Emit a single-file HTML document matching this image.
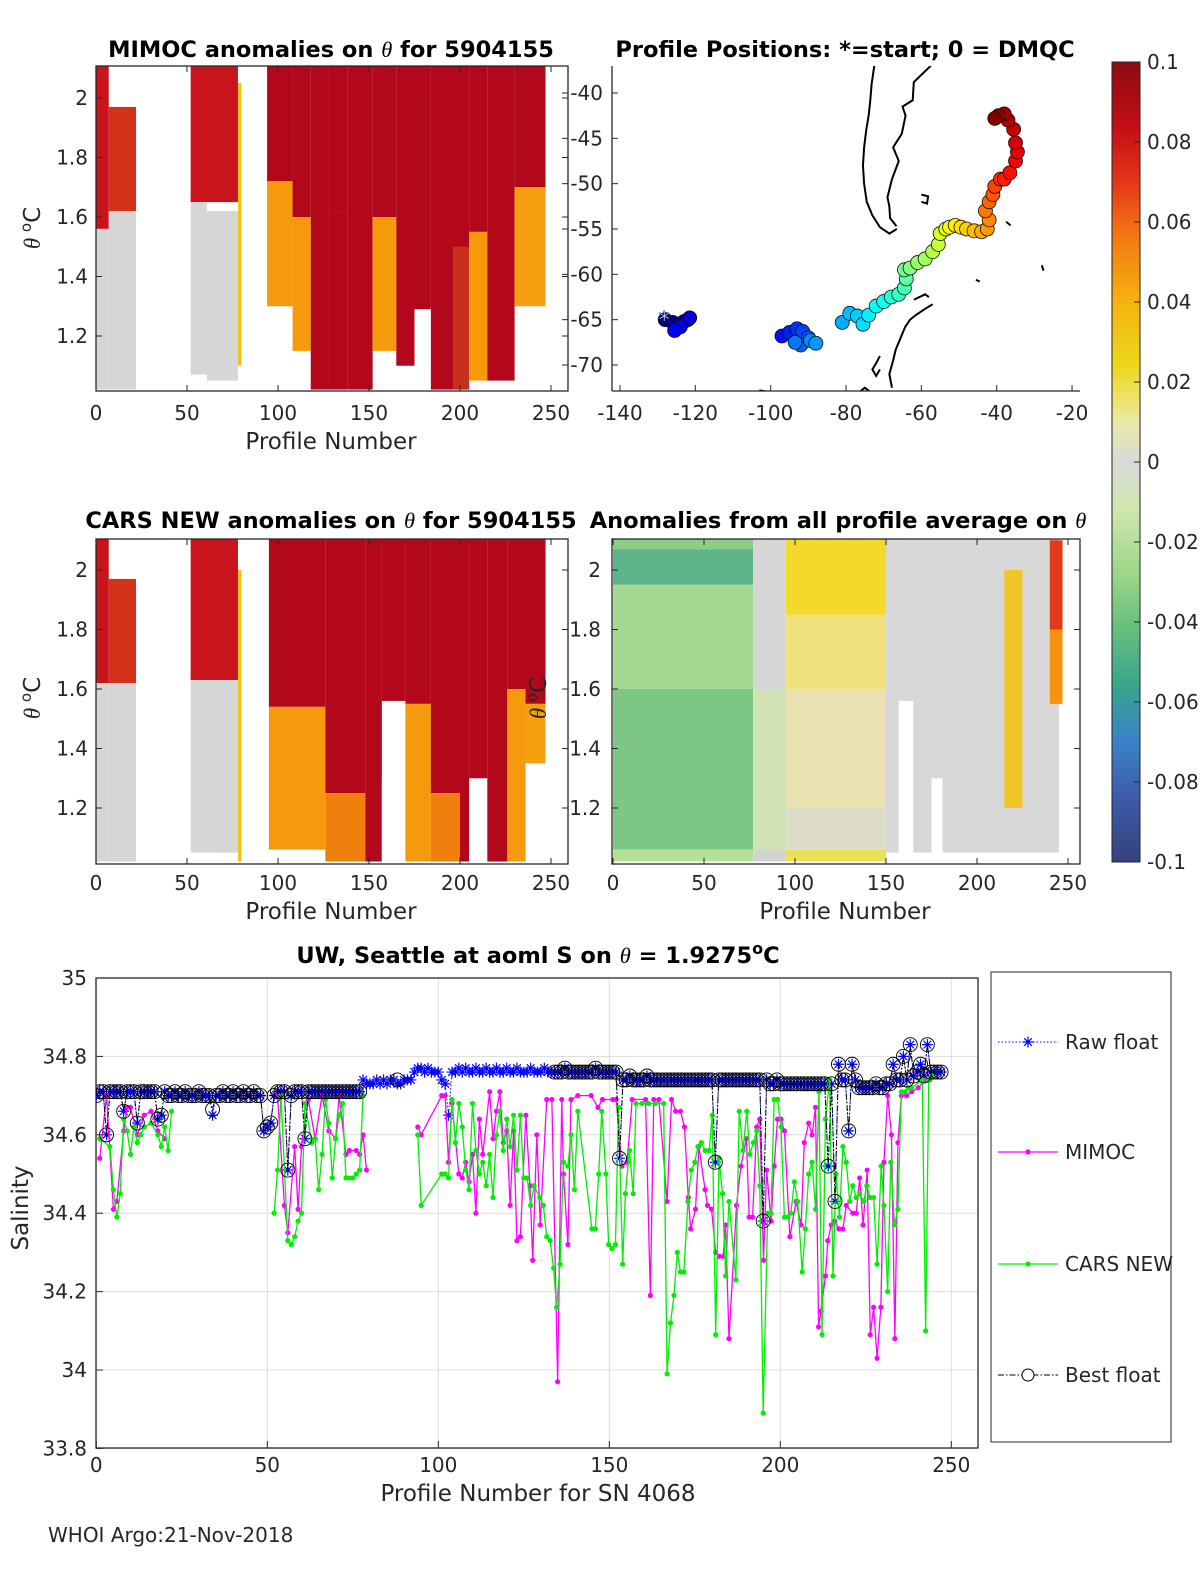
<!DOCTYPE html>
<html><head><meta charset="utf-8"><title>Float 5904155 anomalies and salinity</title>
<style>
html,body{margin:0;padding:0;background:#fff;}
svg{display:block;font-family:"DejaVu Sans","Liberation Sans",sans-serif;}
.tk{font-size:20px;fill:#262626;}
.tt{font-size:22.5px;font-weight:bold;fill:#000;}
.lb{font-size:23px;fill:#262626;}
</style></head>
<body>
<svg id="fig" xmlns="http://www.w3.org/2000/svg" width="1200" height="1575" viewBox="0 0 1200 1575">
<defs>
<linearGradient id="cbg" x1="0" y1="0" x2="0" y2="1">
<stop offset="0" stop-color="#8e0c12"/><stop offset="0.08" stop-color="#c20d16"/><stop offset="0.15" stop-color="#e5361a"/>
<stop offset="0.22" stop-color="#f47a12"/><stop offset="0.3" stop-color="#f5b20f"/><stop offset="0.38" stop-color="#ecd81c"/>
<stop offset="0.45" stop-color="#ebeaa6"/><stop offset="0.5" stop-color="#d9d9d9"/><stop offset="0.56" stop-color="#cfe6ad"/>
<stop offset="0.63" stop-color="#a3d98c"/><stop offset="0.7" stop-color="#6cc27c"/><stop offset="0.78" stop-color="#3aa48c"/>
<stop offset="0.85" stop-color="#3a82c8"/><stop offset="0.92" stop-color="#3f5ba8"/><stop offset="1" stop-color="#34427e"/>
</linearGradient>
<clipPath id="c1"><rect x="96" y="66" width="472" height="325"/></clipPath>
<clipPath id="c2"><rect x="612" y="66" width="468" height="325"/></clipPath>
<clipPath id="c3"><rect x="96" y="539" width="472" height="325"/></clipPath>
<clipPath id="c4"><rect x="612" y="539" width="468" height="325"/></clipPath>
<clipPath id="c5"><rect x="96" y="978" width="882" height="470"/></clipPath>
</defs>
</svg>
<script>
// ---------- bottom chart data ----------
const rawV = [
34.70,34.71,34.71,34.60,34.71,34.71,34.71,34.71,34.66,34.71,
34.71,34.71,34.63,34.71,34.71,34.71,34.71,34.71,34.64,34.65,
34.71,34.70,34.70,34.71,34.70,34.70,34.71,34.70,34.70,34.70,
34.71,34.70,34.70,34.70,34.65,34.70,34.70,34.71,34.70,34.70,
34.71,34.70,34.70,34.71,34.70,34.70,34.71,34.70,34.70,34.61,
34.62,34.63,34.70,34.71,34.71,34.71,34.51,34.70,34.71,34.71,
34.71,34.59,34.71,34.71,34.71,34.71,34.71,34.71,34.71,34.71,
34.71,34.71,34.71,34.71,34.71,34.71,34.71,34.71,34.74,34.73,
34.73,34.73,34.74,34.73,34.74,34.73,34.74,34.74,34.73,34.73,
34.74,34.74,34.74,34.76,34.77,34.77,34.76,34.77,34.76,34.76,
34.76,34.74,34.73,34.65,34.76,34.76,34.77,34.76,34.77,34.76,
34.76,34.77,34.76,34.76,34.77,34.76,34.76,34.77,34.76,34.76,
34.77,34.76,34.76,34.77,34.76,34.76,34.76,34.77,34.76,34.76,
34.76,34.77,34.76,34.76,34.76,34.76,34.76,34.77,34.76,34.76,
34.76,34.76,34.76,34.76,34.76,34.76,34.77,34.76,34.76,34.76,
34.76,34.76,34.76,34.54,34.74,34.74,34.75,34.74,34.74,34.74,
34.74,34.75,34.74,34.74,34.74,34.74,34.74,34.74,34.74,34.74,
34.74,34.74,34.74,34.74,34.74,34.74,34.74,34.74,34.74,34.74,
34.74,34.53,34.74,34.74,34.74,34.74,34.74,34.74,34.74,34.74,
34.74,34.74,34.74,34.74,34.74,34.38,34.74,34.73,34.73,34.74,
34.73,34.73,34.73,34.73,34.73,34.73,34.73,34.73,34.73,34.73,
34.73,34.73,34.73,34.73,34.52,34.73,34.43,34.78,34.74,34.74,
34.61,34.78,34.74,34.72,34.72,34.72,34.72,34.72,34.73,34.72,
34.72,34.73,34.73,34.78,34.74,34.74,34.80,34.74,34.83,34.75,
34.76,34.78,34.75,34.83,34.76,34.76,34.76,34.76];
const bestRanges = [[0,77],[134,247]];
const bestFixP = [34, 88];
const bestFixV = [34.665, 34.74];

const mimocP = [1,3,5,6,8,9,10,12,14,16,18,20,
53,55,56,58,59,60,62,64,66,68,70,71,73,74,76,77,78,79,
94,95,
101,102,103,104,106,107,108,109,110,111,112,113,115,116,117,118,119,120,121,122,123,
124,125.6,126.8,127.6,128.8,129.8,131.7,133.2,134.9,136.1,136.6,137.9,138.8,140.8,144.7,146.7,148,151,152,153.7,155.2,156.7,160.6,162,163,164.5,166.9,168.2,169.4,170.8,172,173.1,173.8,175.2,176.2,178,178.7,179.9,181.1,182.1,183.3,184,185,187.2,188.5,190.1,190.9,191.9,193.1,194,195.1,196,197.3,198.2,199.2,200.2,201.2,202.8,204.6,206.1,207,208.3,209.3,210.3,211.2,211.9,213.2,213.9,214.9,215.9,217.1,218.3,219.3,221.2,222.2,223.2,224.2,225.4,226.3,227.3,228.3,229.4,230.3,231.4,232.5,233.5,234.4,235.4,236.9,238.4,240.3,242.3,243.7];
const mimocV = [34.54,34.70,34.41,34.43,34.61,34.67,34.67,34.60,34.65,34.66,34.61,34.59,
34.70,34.42,34.35,34.57,34.41,34.57,34.69,34.59,34.70,34.61,34.59,34.70,34.55,34.56,34.56,34.55,34.60,34.51,
34.62,34.60,
34.70,34.70,34.53,34.68,34.50,34.49,34.53,34.48,34.55,34.40,34.64,34.55,34.71,34.59,34.66,34.71,34.58,34.61,34.42,34.61,34.33,
34.34,34.65,34.47,34.28,34.60,34.37,34.69,34.69,33.97,34.69,34.50,34.32,34.69,34.70,34.70,34.67,34.69,34.69,34.69,34.52,34.53,34.69,34.69,34.19,34.69,34.69,34.43,34.69,34.66,34.66,34.62,34.44,34.36,34.41,34.57,34.46,34.42,34.41,34.30,34.29,34.29,34.37,34.08,34.42,34.52,34.59,34.39,34.39,34.62,34.64,34.28,34.51,34.38,34.52,34.64,34.64,34.61,34.34,34.43,34.37,34.58,34.63,34.60,34.67,34.11,34.15,34.24,34.33,34.37,34.38,34.36,34.36,34.42,34.40,34.40,34.49,34.37,34.51,34.09,34.16,34.03,34.16,34.53,34.70,34.60,34.08,34.58,34.70,34.70,34.71,34.72,34.74,34.74];

const carsP = [1,4,5,6,7,8,9,10,11,12,13,14,16,18,19,20,21,22,
52,53,54,56,57,58,59,60,61,63,64,65,66,67,68,69,70,71,72,73,74,75,76,77,78,
94,95,
101,102,103,104,105,106,107,108,109,110,111,112,113,114,115,116,117,118,119,120,121,122,123,124,125,126,127,128,
129.7,130.7,131.7,132.7,133.7,134.6,135.6,136.6,137.9,138.8,139.8,140.8,144.9,145.9,146.9,147.8,149,149.8,150.8,151.8,152.7,153.9,154.7,155.9,157,157.8,159.6,161.5,163.5,165.9,166.9,167.9,168.9,169.9,170.8,171.8,173,174,175,175.9,176.9,178,179.2,180.1,181.1,182.1,183.1,184,185,187,188,189.1,190.2,191.1,192.1,193.1,194,195,196.3,197.3,198.2,199.2,200.2,201.2,202.2,203.1,204.1,205.1,206.4,207.3,208.3,209.3,210.3,211.3,212.2,213.2,214.4,215.4,216.3,217.3,218.3,219.3,220.3,221.2,222.2,223.2,224.4,225.3,226.3,227.3,228.3,229.5,230.3,231.4,232.3,233.4,234.4,235.4,236.4,237.4,238.4,241.5,242.5,243.4,244.5];
const carsV = [34.59,34.57,34.46,34.39,34.45,34.64,34.61,34.55,34.62,34.58,34.60,34.62,34.63,34.60,34.57,34.62,34.56,34.66,
34.40,34.51,34.70,34.33,34.32,34.34,34.38,34.40,34.68,34.58,34.59,34.46,34.55,34.69,34.63,34.49,34.59,34.65,34.68,34.49,34.49,34.49,34.50,34.51,34.70,
34.60,34.42,
34.50,34.50,34.49,34.69,34.58,34.68,34.62,34.51,34.46,34.68,34.56,34.50,34.53,34.47,34.55,34.44,34.60,34.66,34.56,34.64,34.57,34.65,34.51,34.65,34.49,34.49,34.42,34.47,
34.44,34.42,34.34,34.33,34.26,34.16,34.27,34.53,34.52,34.60,34.46,34.66,34.36,34.36,34.50,34.66,34.50,34.32,34.31,34.32,34.67,34.27,34.45,34.56,34.45,34.68,34.68,34.68,34.68,34.68,33.99,34.12,34.19,34.30,34.25,34.25,34.43,34.51,34.53,34.57,34.58,34.56,34.56,34.65,34.09,34.54,34.45,34.24,34.43,34.23,34.66,34.56,34.66,34.55,34.58,34.61,34.47,33.89,34.40,34.40,34.69,34.69,34.62,34.39,34.39,34.40,34.48,34.43,34.25,34.36,34.50,34.53,34.41,34.71,34.09,34.64,34.74,34.24,34.50,34.39,34.57,34.53,34.43,34.47,34.44,34.45,34.43,34.47,34.44,34.44,34.27,34.52,34.42,34.20,34.53,34.37,34.41,34.71,34.71,34.72,34.72,34.74,34.10,34.74,34.75];

const salTicks = [33.8,34,34.2,34.4,34.6,34.8,35];
const salTickLabels = ["33.8","34","34.2","34.4","34.6","34.8","35"];
const profTicks = [0,50,100,150,200,250];

// ---------- map data ----------
const trackLon = [-128,-126,-124.5,-123,-122,-121.5,-124,-125.5,-97,-95,-93,-91.5,-90,-92,-93.5,-89.5,-88,-81,-79,-77,-75.5,-74,-72,-70,-68,-66,-64.5,-64,-64.5,-63,-61,-59,-57,-55.5,-55,-53.5,-52.5,-51,-49.5,-48,-46,-44,-42.5,-42,-43,-42,-41,-40.5,-39,-38,-36.5,-35,-34.5,-35,-35.5,-37,-38,-39.5,-40.5];
const trackLat = [-65,-65.3,-65.5,-65.2,-65,-64.8,-65.8,-66.2,-66.8,-66.4,-66,-66.3,-67,-67.8,-67.5,-67.3,-67.6,-65.3,-64.3,-64.6,-65.5,-64.5,-63.5,-63,-62.5,-62.2,-61.5,-60.5,-59.5,-59.3,-58.7,-58.3,-57.5,-56.7,-55.5,-55,-54.8,-54.6,-54.8,-55,-55.2,-55.3,-55,-54,-53,-52,-51.2,-50.3,-49.5,-49.5,-48.8,-47.5,-46.5,-45.5,-44,-43,-42.3,-42.5,-42.8];
const lonTicks = [-140,-120,-100,-80,-60,-40,-20];
const latTicks = [-40,-45,-50,-55,-60,-65,-70];

// ---------- heatmap blocks (profile start, end, theta top, theta bottom, colour) ----------
const h1Start = [0,0,7,7,52,52,61,78,94,94,108,108,118,128,128,138,152,152,165,175,184,196,205,205,215,230,230];
const h1End   = [7,7,22,22,78,61,78,80,108,108,118,118,128,138,138,152,165,165,175,184,205,205,215,215,230,247,247];
const h1Top   = [2.11,1.56,1.97,1.62,2.11,1.65,1.62,2.05,2.11,1.72,2.11,1.6,2.11,2.11,1.62,2.11,2.11,1.6,2.11,2.11,2.11,1.5,2.11,1.55,2.11,2.11,1.7];
const h1Bot   = [1.56,1.02,1.62,1.02,1.65,1.07,1.05,1.1,1.72,1.3,1.6,1.15,1.02,1.62,1.02,1.02,1.6,1.15,1.1,1.29,1.02,1.02,1.55,1.05,1.05,1.7,1.3];
const h1Col   = ["#c9141c","#d6d6d6","#d2321a","#d6d6d6","#c9141c","#d6d6d6","#d6d6d6","#f2c418","#b3081c","#f59a0c","#b3081c","#f59a0c","#b3081c","#b3081c","#b3081c","#b3081c","#b3081c","#f59a0c","#b3081c","#b3081c","#b3081c","#c7301a","#b3081c","#f59a0c","#b3081c","#b3081c","#f5a00e"];

const h3Start = [0,0,7,7,52,52,78,95,95,126,126,148,152,157,170,170,184,184,200,205,215,226,226,236,236];
const h3End   = [7,7,22,22,78,78,80,126,126,148,148,157,157,170,184,184,200,200,205,215,226,236,236,247,247];
const h3Top   = [2.11,1.62,1.97,1.62,2.11,1.63,2.0,2.11,1.54,2.11,1.25,2.11,2.11,2.11,2.11,1.55,2.11,1.25,2.11,2.11,2.11,2.11,1.6,2.11,1.55];
const h3Bot   = [1.62,1.02,1.62,1.02,1.63,1.05,1.02,1.54,1.06,1.25,1.02,1.02,1.3,1.56,1.55,1.02,1.25,1.02,1.02,1.3,1.02,1.6,1.02,1.55,1.35];
const h3Col   = ["#c9141c","#d6d6d6","#d2321a","#d6d6d6","#c9141c","#d6d6d6","#f2c418","#b3081c","#f59a0c","#b3081c","#f0800e","#b3081c","#b3081c","#b3081c","#b3081c","#f59a0c","#b3081c","#f0800e","#b3081c","#b3081c","#b3081c","#b3081c","#f59a0c","#b3081c","#f5a00e"];

const h4Start = [0,0,0,0,0,77,77,77,95,95,95,95,95,150,157,175,215,240,240];
const h4End   = [77,77,77,77,77,95,95,95,150,150,150,150,150,245,165,181,225,247,247];
const h4Top   = [2.11,2.07,1.95,1.6,1.06,2.11,1.6,1.06,2.11,1.85,1.6,1.2,1.06,2.11,1.56,1.3,2.0,2.1,1.8];
const h4Bot   = [2.07,1.95,1.6,1.06,1.02,1.6,1.06,1.02,1.85,1.6,1.2,1.06,1.02,1.05,1.02,1.02,1.2,1.8,1.55];
const h4Col   = ["#8cce84","#5fb58a","#a4d991","#7cc784","#b5e095","#d6d6d6","#cfe3b2","#d3d3d3","#f2d92a","#eee07a","#e8e3b0","#dddcc8","#ece058","#d8d8d8","#ffffff","#ffffff","#efc528","#e53a1a","#f5920f"];

const cbTicks = [0.1,0.08,0.06,0.04,0.02,0,-0.02,-0.04,-0.06,-0.08,-0.1];
const cbLabels = ["0.1","0.08","0.06","0.04","0.02","0","-0.02","-0.04","-0.06","-0.08","-0.1"];
const thetaTicks = [2,1.8,1.6,1.4,1.2];
const thetaLabels = ["2","1.8","1.6","1.4","1.2"];

// ---------- helpers ----------
const NS = "http://www.w3.org/2000/svg";
const svg = document.getElementById("fig");
function mk(tag, attrs, parent){
  const e = document.createElementNS(NS, tag);
  for (const k in attrs) e.setAttribute(k, attrs[k]);
  (parent || svg).appendChild(e);
  return e;
}
function txt(s, x, y, cls, anchor, parent){
  const t = mk("text", {x:x, y:y, class:cls, "text-anchor":anchor||"middle"}, parent);
  t.textContent = s;
  return t;
}

const px1 = p => 96 + p*1.82;
const py1 = th => 98 + (2-th)*297.5;
const py3 = th => 570 + (2-th)*297.5;
const px4 = p => 613 + p*1.82;
const mx = lon => 620 + (lon+140)*3.767;
const my = lat => 93 + (-40-lat)*9.067;
const bx = p => 96.3 + p*3.42;
const by = v => 978 + (35-v)*392;

// ---------- heatmap panels ----------
function heat(starts, ends, tops, bots, cols, px, py, clip, name){
  const g = mk("g", {"clip-path":"url(#"+clip+")"});
  
  
  for (let i=0;i<starts.length;i++){
    const r = mk("rect", {x:px(starts[i]), y:py(tops[i]), width:px(ends[i])-px(starts[i]), height:py(bots[i])-py(tops[i]), fill:cols[i]}, g);
    
    
  }
  return g;
}
heat(h1Start,h1End,h1Top,h1Bot,h1Col,px1,py1,"c1","mimoc-heatmap");
heat(h3Start,h3End,h3Top,h3Bot,h3Col,px1,py3,"c3","cars-heatmap");
heat(h4Start,h4End,h4Top,h4Bot,h4Col,px4,py3,"c4","average-anomaly-heatmap");

function axesBox(x,y,w,h,name){
  const r = mk("rect",{x:x,y:y,width:w,height:h,fill:"none",stroke:"#262626","stroke-width":1.3});
  
  
}
function thetaAxis(py, xl, xr, lx, name){
  const g = mk("g",{});
  
  
  thetaTicks.forEach((t,i)=>{
    mk("line",{x1:xl,x2:xl+6,y1:py(t),y2:py(t),stroke:"#262626"},g);
    if (xr) mk("line",{x1:xr-6,x2:xr,y1:py(t),y2:py(t),stroke:"#262626"},g);
    txt(thetaLabels[i], lx, py(t)+7, "tk", "end", g);
  });
}
function profAxis(px, yb, yt, ly, name){
  const g = mk("g",{});
  
  
  profTicks.forEach(t=>{
    mk("line",{x1:px(t),x2:px(t),y1:yb,y2:yb-6,stroke:"#262626"},g);
    mk("line",{x1:px(t),x2:px(t),y1:yt,y2:yt+6,stroke:"#262626"},g);
    txt(String(t), px(t), ly, "tk", "middle", g);
  });
}

axesBox(96,66,472,325,"mimoc-axes");
thetaAxis(py1,96,568,88,"mimoc-y-axis");
profAxis(px1,391,66,420,"mimoc-x-axis");
axesBox(96,539,472,325,"cars-axes");
thetaAxis(py3,96,568,88,"cars-y-axis");
profAxis(px1,864,539,890,"cars-x-axis");
axesBox(612,539,468,325,"average-axes");
thetaAxis(py3,612,1080,601,"average-y-axis");
profAxis(px4,864,539,890,"average-x-axis");

// ---------- map ----------
const mapG = mk("g",{"clip-path":"url(#c2)"});


const coasts = [
 [[-72.5,-37],[-73.2,-39],[-73.6,-41],[-74,-42.5],[-74.6,-44],[-75.2,-46],[-75.5,-48],[-75.2,-50],[-74.5,-52],[-73,-53.5],[-71,-54.8],[-68.5,-55.5],[-66.5,-55]],
 [[-57.5,-37],[-62,-38.8],[-62.3,-40.8],[-65,-41.5],[-64.2,-42.5],[-65.2,-44.5],[-67.5,-46],[-66,-47.5],[-67.8,-49.5],[-69,-51.5],[-68.5,-52.5],[-68.3,-53.8],[-66.6,-54.7]],
 [[-60,-51.2],[-58.2,-51.4],[-58.5,-52.2],[-60,-52]],
 [[-57,-63.3],[-59,-63.8],[-61.5,-64.5],[-63,-65],[-64.3,-65.8],[-65.5,-67],[-66.8,-68.3],[-67.5,-69.5],[-68.5,-71],[-67.8,-72.5]],
 [[-71,-69],[-72,-69.8],[-73,-70.5],[-72,-71.2],[-71,-70.5]],
 [[-62,-62.8],[-59,-62.2],[-58,-62.5]],
 [[-103,-72.8],[-100,-73],[-97,-73.2],[-94,-73.1],[-90,-73.2]],
 [[-76.5,-73],[-75,-72.5],[-73.5,-73]],
 [[-28,-59],[-27.6,-59.6]],[[-45.5,-60.6],[-44.5,-60.8]],[[-37.5,-54.2],[-36.3,-54.6]]
];
coasts.forEach(c=>{
  const pl = mk("polyline",{points:c.map(q=>mx(q[0])+","+my(q[1])).join(" "),fill:"none",stroke:"#000","stroke-width":2},mapG);
  
  
});
function jet(t){
  const r = Math.max(0,Math.min(1,1.5-Math.abs(4*t-3)));
  const g = Math.max(0,Math.min(1,1.5-Math.abs(4*t-2)));
  const b = Math.max(0,Math.min(1,1.5-Math.abs(4*t-1)));
  return "rgb("+Math.round(r*255)+","+Math.round(g*255)+","+Math.round(b*255)+")";
}
for (let i=0;i<trackLon.length;i++){
  const c = mk("circle",{cx:mx(trackLon[i]),cy:my(trackLat[i]),r:7,fill:jet(i/(trackLon.length-1)),stroke:"#111","stroke-width":0.8},mapG);
  
  
}
const st = mk("text",{x:mx(trackLon[0])-1,y:my(trackLat[0])+8,"text-anchor":"middle","font-size":"22",fill:"#fff",stroke:"#2030a0","stroke-width":0.6},mapG);
st.textContent = "*";



const mapAx = mk("g",{});


mk("line",{x1:612,x2:612,y1:66,y2:391,stroke:"#262626","stroke-width":1.3},mapAx);
mk("line",{x1:612,x2:1080,y1:391,y2:391,stroke:"#262626","stroke-width":1.3},mapAx);
lonTicks.forEach(t=>{
  mk("line",{x1:mx(t),x2:mx(t),y1:391,y2:385,stroke:"#262626"},mapAx);
  txt(String(t), mx(t), 420, "tk", "middle", mapAx);
});
latTicks.forEach(t=>{
  mk("line",{x1:612,x2:618,y1:my(t),y2:my(t),stroke:"#262626"},mapAx);
  mk("line",{x1:562,x2:568,y1:my(t),y2:my(t),stroke:"#262626"},mapAx);
  txt(String(t), 603, my(t)+7, "tk", "end", mapAx);
});

// ---------- colorbar ----------
const cb = mk("g",{});


mk("rect",{x:1112,y:62,width:28,height:800,fill:"url(#cbg)",stroke:"#262626","stroke-width":1},cb);
cbTicks.forEach((t,i)=>{
  const y = 62 + (0.1-t)/0.2*800;
  mk("line",{x1:1134,x2:1140,y1:y,y2:y,stroke:"#262626"},cb);
  txt(cbLabels[i], 1147, y+7, "tk", "start", cb).setAttribute("font-size","19");
});

// ---------- titles & labels ----------
function title(x,y,parts,name,cls){
  const t = mk("text",{x:x,y:y,class:cls||"tt","text-anchor":"middle"});
  parts.forEach(p=>{
    const s = mk("tspan",{},t);
    if (p[1]) { s.setAttribute("font-style","italic"); s.setAttribute("font-weight","normal"); s.setAttribute("font-family","Liberation Serif, serif"); }
    if (p[2]) { s.setAttribute("baseline-shift","super"); s.setAttribute("font-size","16"); }
    s.textContent = p[0];
  });
  
  
}
title(331,57,[["MIMOC anomalies on "],["θ",1],["  for 5904155"]],"mimoc-title");
title(845,57,[["Profile Positions: *=start; 0 = DMQC"]],"map-title");
title(331,528,[["CARS NEW anomalies on "],["θ",1],[" for 5904155"]],"cars-title");
title(838,528,[["Anomalies from all profile average on "],["θ",1]],"average-title");
title(538,963,[["UW, Seattle at aoml S on "],["θ",1],[" = 1.9275"],["o",0,1],["C"]],"salinity-title");

function ylab(x,y,name){
  const t = mk("text",{x:x,y:y,class:"lb","text-anchor":"middle",transform:"rotate(-90 "+x+" "+y+")"});
  const a = mk("tspan",{"font-style":"italic","font-family":"Liberation Serif, serif"},t); a.textContent="θ ";
  const b = mk("tspan",{"baseline-shift":"super","font-size":"15"},t); b.textContent="o";
  const c = mk("tspan",{},t); c.textContent="C";
  
  
}
ylab(40,228,"mimoc-y-title");
ylab(40,698,"cars-y-title");
ylab(546,698,"average-y-title");
[[331,449,"mimoc-x-title"],[331,919,"cars-x-title"],[845,919,"average-x-title"]].forEach(a=>{
  const t = txt("Profile Number", a[0], a[1], "lb", "middle");
  
  
});

// ---------- bottom salinity chart ----------
const bg = mk("g",{});


salTicks.forEach((t,i)=>{
  mk("line",{x1:96,x2:978,y1:by(t),y2:by(t),stroke:"#dcdcdc","stroke-width":1},bg);
  mk("line",{x1:96,x2:103,y1:by(t),y2:by(t),stroke:"#262626"},bg);
  txt(salTickLabels[i], 87, by(t)+7, "tk", "end", bg);
});
profTicks.forEach(t=>{
  mk("line",{x1:bx(t),x2:bx(t),y1:978,y2:1448,stroke:"#dcdcdc","stroke-width":1},bg);
  mk("line",{x1:bx(t),x2:bx(t),y1:1448,y2:1441,stroke:"#262626"},bg);
  txt(String(t), bx(t), 1472, "tk", "middle", bg);
});
mk("rect",{x:96,y:978,width:882,height:470,fill:"none",stroke:"#262626","stroke-width":1.3},bg);

const plot = mk("g",{"clip-path":"url(#c5)"});



const rawLine = mk("polyline",{points:rawV.map((v,i)=>bx(i)+","+by(v)).join(" "),fill:"none",stroke:"#0000ff","stroke-width":1,"stroke-dasharray":"1.5 2"},plot);


function star(x,y,g,c){
  const s = 5.5;
  mk("path",{d:`M${x-s},${y}H${x+s}M${x},${y-s}V${y+s}M${x-s*0.7},${y-s*0.7}L${x+s*0.7},${y+s*0.7}M${x-s*0.7},${y+s*0.7}L${x+s*0.7},${y-s*0.7}`,stroke:c,"stroke-width":1.2,fill:"none"},g);
}
const rawG = mk("g",{},plot);


rawV.forEach((v,i)=>star(bx(i),by(v),rawG,"#0000ff"));

function series(P,V,col,name){
  const g = mk("g",{},plot);
  
  
  let seg = [];
  const segs = [];
  for (let i=0;i<P.length;i++){
    if (i>0 && P[i]-P[i-1] > 8){ segs.push(seg); seg=[]; }
    seg.push(bx(P[i])+","+by(V[i]));
  }
  segs.push(seg);
  segs.forEach(s=>mk("polyline",{points:s.join(" "),fill:"none",stroke:col,"stroke-width":1.3},g));
  for (let i=0;i<P.length;i++) mk("circle",{cx:bx(P[i]),cy:by(V[i]),r:2.6,fill:col},g);
}
series(mimocP,mimocV,"#ff00ff","mimoc-series");
series(carsP,carsV,"#00ee00","cars-series");

const bestG = mk("g",{},plot);


function bestVal(i){ const k = bestFixP.indexOf(i); return k>=0 ? bestFixV[k] : rawV[i]; }
bestRanges.forEach(r=>{
  const pts = [];
  for (let i=r[0];i<=r[1];i++) pts.push(bx(i)+","+by(bestVal(i)));
  mk("polyline",{points:pts.join(" "),fill:"none",stroke:"#000","stroke-width":1,"stroke-dasharray":"6 2 1.5 2"},bestG);
  for (let i=r[0];i<=r[1];i++){
    mk("circle",{cx:bx(i),cy:by(bestVal(i)),r:7,fill:"none",stroke:"#000","stroke-width":0.9},bestG);
  }
});
mk("circle",{cx:bx(88),cy:by(bestVal(88)),r:7,fill:"none",stroke:"#000","stroke-width":0.9},bestG);

const sx = txt("Profile Number for SN 4068", 538, 1501, "lb", "middle");


const sy = mk("text",{x:28,y:1208,class:"lb","text-anchor":"middle",transform:"rotate(-90 28 1208)"});
sy.textContent = "Salinity";



// legend
const lg = mk("g",{});


mk("rect",{x:991,y:972,width:180,height:470,fill:"#fff",stroke:"#262626","stroke-width":1},lg);
const legNames = ["Raw float","MIMOC","CARS NEW","Best float"];
const legY = [1042,1152,1264,1375];
const e0 = mk("g",{},lg);


mk("line",{x1:998,x2:1058,y1:legY[0],y2:legY[0],stroke:"#0000ff","stroke-dasharray":"1.5 2"},e0);
star(1028,legY[0],e0,"#0000ff");
const e1 = mk("g",{},lg);


mk("line",{x1:998,x2:1058,y1:legY[1],y2:legY[1],stroke:"#ff00ff","stroke-width":1.3},e1);
mk("circle",{cx:1028,cy:legY[1],r:2.6,fill:"#ff00ff"},e1);
const e2 = mk("g",{},lg);


mk("line",{x1:998,x2:1058,y1:legY[2],y2:legY[2],stroke:"#00ee00","stroke-width":1.3},e2);
mk("circle",{cx:1028,cy:legY[2],r:2.6,fill:"#00ee00"},e2);
const e3 = mk("g",{},lg);


mk("line",{x1:998,x2:1058,y1:legY[3],y2:legY[3],stroke:"#000","stroke-dasharray":"6 2 1.5 2"},e3);
mk("circle",{cx:1028,cy:legY[3],r:6,fill:"#fff",stroke:"#000"},e3);
legNames.forEach((n,i)=>{
  const t = txt(n, 1065, legY[i]+7, "tk", "start", lg);
  t.setAttribute("font-size","19");
});

const ft = txt("WHOI Argo:21-Nov-2018", 48, 1542, "tk", "start");
ft.setAttribute("font-size","15");


</script>
</body></html>
